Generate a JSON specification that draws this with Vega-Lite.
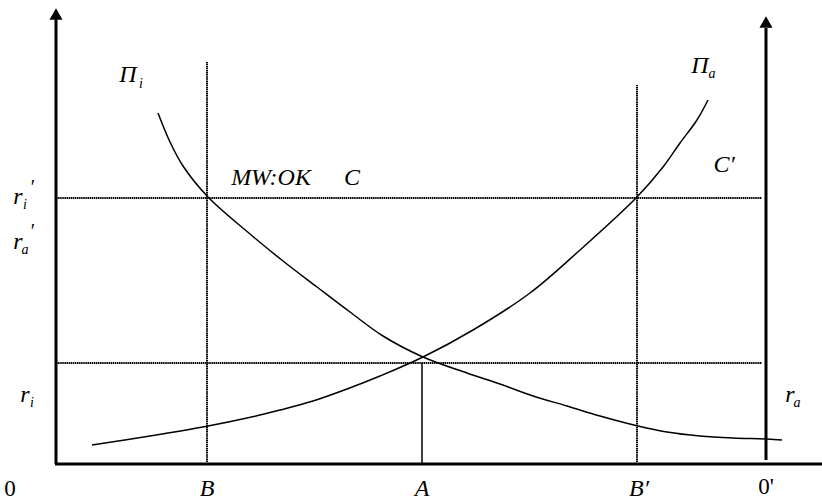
{
  "$schema": "https://vega.github.io/schema/vega-lite/v6.json",
  "width": 822,
  "height": 500,
  "padding": 0,
  "autosize": {"type": "none"},
  "background": "white",
  "config": {"view": {"stroke": null}},
  "datasets": {
    "axes": [
      {"x": 56, "x2": 56, "y": 36, "y2": 482},
      {"x": 766, "x2": 766, "y": 40, "y2": 472},
      {"x": 55, "x2": 822, "y": 36, "y2": 36}
    ],
    "arrows": [
      {"x": 56, "y": 486},
      {"x": 766, "y": 478}
    ],
    "dotted": [
      {"x": 207, "x2": 207, "y": 38, "y2": 438},
      {"x": 637, "x2": 637, "y": 38, "y2": 415},
      {"x": 56, "x2": 762, "y": 302, "y2": 302},
      {"x": 56, "x2": 762, "y": 137, "y2": 137}
    ],
    "thin": [
      {"x": 422, "x2": 422, "y": 36, "y2": 137}
    ],
    "curves": [
      {"c": "Pi_i", "x": 158, "y": 387},
      {"c": "Pi_i", "x": 170, "y": 358},
      {"c": "Pi_i", "x": 183, "y": 334},
      {"c": "Pi_i", "x": 208, "y": 303},
      {"c": "Pi_i", "x": 250, "y": 266},
      {"c": "Pi_i", "x": 283, "y": 239},
      {"c": "Pi_i", "x": 317, "y": 213},
      {"c": "Pi_i", "x": 350, "y": 188},
      {"c": "Pi_i", "x": 383, "y": 164},
      {"c": "Pi_i", "x": 423, "y": 143},
      {"c": "Pi_i", "x": 467, "y": 127},
      {"c": "Pi_i", "x": 500, "y": 116},
      {"c": "Pi_i", "x": 533, "y": 104},
      {"c": "Pi_i", "x": 567, "y": 94},
      {"c": "Pi_i", "x": 600, "y": 84},
      {"c": "Pi_i", "x": 638, "y": 74},
      {"c": "Pi_i", "x": 667, "y": 68},
      {"c": "Pi_i", "x": 700, "y": 64},
      {"c": "Pi_i", "x": 733, "y": 62},
      {"c": "Pi_i", "x": 767, "y": 61},
      {"c": "Pi_i", "x": 782, "y": 60},
      {"c": "Pi_a", "x": 92, "y": 55},
      {"c": "Pi_a", "x": 150, "y": 64},
      {"c": "Pi_a", "x": 208, "y": 74},
      {"c": "Pi_a", "x": 247, "y": 82},
      {"c": "Pi_a", "x": 280, "y": 90},
      {"c": "Pi_a", "x": 313, "y": 99},
      {"c": "Pi_a", "x": 347, "y": 111},
      {"c": "Pi_a", "x": 380, "y": 124},
      {"c": "Pi_a", "x": 423, "y": 143},
      {"c": "Pi_a", "x": 473, "y": 170},
      {"c": "Pi_a", "x": 530, "y": 207},
      {"c": "Pi_a", "x": 580, "y": 250},
      {"c": "Pi_a", "x": 637, "y": 303},
      {"c": "Pi_a", "x": 663, "y": 333},
      {"c": "Pi_a", "x": 680, "y": 357},
      {"c": "Pi_a", "x": 697, "y": 380},
      {"c": "Pi_a", "x": 708, "y": 400}
    ],
    "labels": [
      {"t": "Π", "x": 128, "y": 425},
      {"t": "Π", "x": 700, "y": 434},
      {"t": "r", "x": 18, "y": 303},
      {"t": "r", "x": 18, "y": 258},
      {"t": "r", "x": 25, "y": 105},
      {"t": "r", "x": 790, "y": 105},
      {"t": "MW:OK", "x": 271, "y": 322},
      {"t": "C", "x": 352, "y": 322},
      {"t": "C′", "x": 724, "y": 335},
      {"t": "B", "x": 207, "y": 11},
      {"t": "A", "x": 422, "y": 11},
      {"t": "B′", "x": 639, "y": 11}
    ],
    "upright": [
      {"t": "0", "x": 10, "y": 11},
      {"t": "0'", "x": 766, "y": 13}
    ],
    "subs": [
      {"t": "i", "x": 141, "y": 416},
      {"t": "a", "x": 712, "y": 426},
      {"t": "i", "x": 25, "y": 295},
      {"t": "a", "x": 25, "y": 250},
      {"t": "i", "x": 32, "y": 97},
      {"t": "a", "x": 797, "y": 97}
    ],
    "primes": [
      {"t": "′", "x": 33, "y": 312},
      {"t": "′", "x": 33, "y": 268}
    ]
  },
  "layer": [
    {
      "data": {"name": "axes"},
      "mark": {"type": "rule", "strokeWidth": 3, "color": "black"},
      "encoding": {
        "x": {"field": "x", "type": "quantitative", "scale": {"domain": [0, 822], "nice": false, "zero": false}, "axis": null},
        "x2": {"field": "x2"},
        "y": {"field": "y", "type": "quantitative", "scale": {"domain": [0, 500], "nice": false, "zero": false}, "axis": null},
        "y2": {"field": "y2"}
      }
    },
    {
      "data": {"name": "arrows"},
      "mark": {"type": "point", "shape": "triangle-up", "filled": true, "color": "black", "size": 170, "opacity": 1},
      "encoding": {
        "x": {"field": "x", "type": "quantitative"},
        "y": {"field": "y", "type": "quantitative"}
      }
    },
    {
      "data": {"name": "dotted"},
      "mark": {"type": "rule", "strokeWidth": 2, "strokeDash": [1.5, 0.6], "color": "black"},
      "encoding": {
        "x": {"field": "x", "type": "quantitative"},
        "x2": {"field": "x2"},
        "y": {"field": "y", "type": "quantitative"},
        "y2": {"field": "y2"}
      }
    },
    {
      "data": {"name": "thin"},
      "mark": {"type": "rule", "strokeWidth": 1.5, "color": "black"},
      "encoding": {
        "x": {"field": "x", "type": "quantitative"},
        "x2": {"field": "x2"},
        "y": {"field": "y", "type": "quantitative"},
        "y2": {"field": "y2"}
      }
    },
    {
      "data": {"name": "curves"},
      "mark": {"type": "line", "interpolate": "catmull-rom", "strokeWidth": 1.5, "color": "black"},
      "encoding": {
        "x": {"field": "x", "type": "quantitative"},
        "y": {"field": "y", "type": "quantitative"},
        "detail": {"field": "c"}
      }
    },
    {
      "data": {"name": "labels"},
      "mark": {"type": "text", "font": "Liberation Serif, Times New Roman, serif", "fontStyle": "italic", "fontSize": 24, "align": "center", "baseline": "middle", "color": "black"},
      "encoding": {
        "x": {"field": "x", "type": "quantitative"},
        "y": {"field": "y", "type": "quantitative"},
        "text": {"field": "t"}
      }
    },
    {
      "data": {"name": "upright"},
      "mark": {"type": "text", "font": "Liberation Serif, Times New Roman, serif", "fontSize": 23, "align": "center", "baseline": "middle", "color": "black"},
      "encoding": {
        "x": {"field": "x", "type": "quantitative"},
        "y": {"field": "y", "type": "quantitative"},
        "text": {"field": "t"}
      }
    },
    {
      "data": {"name": "subs"},
      "mark": {"type": "text", "font": "Liberation Serif, Times New Roman, serif", "fontStyle": "italic", "fontSize": 14, "align": "center", "baseline": "middle", "color": "black"},
      "encoding": {
        "x": {"field": "x", "type": "quantitative"},
        "y": {"field": "y", "type": "quantitative"},
        "text": {"field": "t"}
      }
    },
    {
      "data": {"name": "primes"},
      "mark": {"type": "text", "font": "Liberation Serif, Times New Roman, serif", "fontSize": 20, "align": "center", "baseline": "middle", "color": "black"},
      "encoding": {
        "x": {"field": "x", "type": "quantitative"},
        "y": {"field": "y", "type": "quantitative"},
        "text": {"field": "t"}
      }
    }
  ]
}
